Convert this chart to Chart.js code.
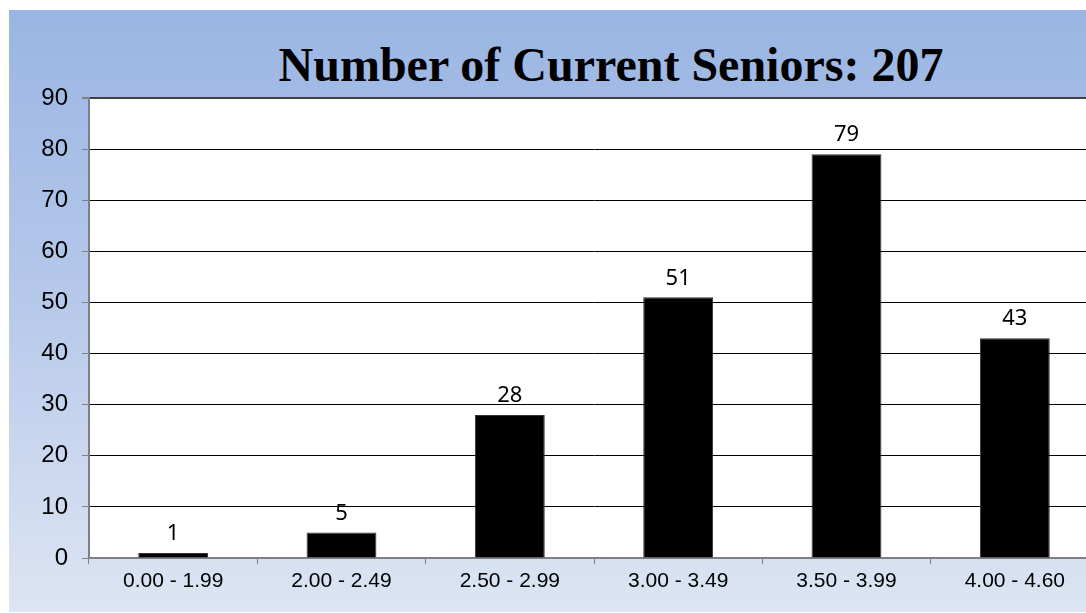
<!DOCTYPE html>
<html>
<head>
<meta charset="utf-8">
<script src="https://cdn.jsdelivr.net/npm/chart.js@4/dist/chart.umd.min.js"></script>
<style>
    html, body { margin: 0; padding: 0; background: #fff; overflow: hidden; width: 1086px; height: 613px; }
    #frame {
        position: absolute; left: 9px; top: 10px; width: 1090px; height: 602px;
        background: linear-gradient(to bottom, #9ab5e3 0%, #b4c7ea 45%, #dde5f3 100%);
    }
    #title {
        position: absolute; left: 0; top: 31px; width: 1204px; text-align: center;
        font: bold 48px "Liberation Serif", "Times New Roman", serif; color: #000;
        margin: 0; line-height: 1;
    }
    #wrap { position: absolute; left: 0; top: 0; width: 1090px; height: 602px; }
</style>
</head>
<body>
<div id="frame">
    <h1 id="title">Number of Current Seniors: 207</h1>
    <div id="wrap"><canvas id="chart"></canvas></div>
</div>
<script>
const categories = ["0.00 - 1.99", "2.00 - 2.49", "2.50 - 2.99", "3.00 - 3.49", "3.50 - 3.99", "4.00 - 4.60"];
const seniors = [1, 5, 28, 51, 79, 43];
const yTicks = [0, 10, 20, 30, 40, 50, 60, 70, 80, 90];

// white plot area
const plotBg = {
    id: "plotBg",
    beforeDraw(chart) {
        const a = chart.chartArea, ctx = chart.ctx;
        ctx.save();
        ctx.fillStyle = "#ffffff";
        ctx.fillRect(a.left, a.top, a.right - a.left, a.bottom - a.top);
        ctx.restore();
    }
};

// value labels above bars
const valueLabels = {
    id: "valueLabels",
    afterDatasetsDraw(chart) {
        const ctx = chart.ctx;
        const meta = chart.getDatasetMeta(0);
        ctx.save();
        ctx.font = '22px "Noto Sans", "Open Sans", sans-serif';
        ctx.fillStyle = "#000";
        ctx.textAlign = "center";
        ctx.textBaseline = "bottom";
        meta.data.forEach((bar, i) => {
            ctx.fillText(String(seniors[i]), bar.x, bar.y - 8);
        });
        ctx.restore();
    }
};

new Chart(document.getElementById("chart"), {
    type: "bar",
    data: {
        labels: categories,
        datasets: [{
            data: seniors,
            backgroundColor: "#000000",
            borderColor: "#333333",
            borderWidth: 1,
            barPercentage: 0.415,
            categoryPercentage: 1.0
        }]
    },
    options: {
        responsive: true,
        maintainAspectRatio: false,
        animation: false,
        layout: { padding: { top: 88, left: 0, right: 0, bottom: 0 } },
        plugins: { legend: { display: false }, tooltip: { enabled: false }, title: { display: false } },
        scales: {
            x: {
                grid: { drawOnChartArea: false, drawTicks: true, tickLength: 6, color: "#808080", offset: true },
                border: { color: "#808080", width: 2 },
                ticks: { color: "#000", font: { family: "'Liberation Sans', Arial, sans-serif", size: 21 }, padding: 5, maxRotation: 0 },
                afterFit(scale) { scale.height = 54; }
            },
            y: {
                min: 0,
                max: 90,
                afterBuildTicks(scale) { scale.ticks = yTicks.map(v => ({ value: v })); },
                grid: {
                    tickLength: 7,
                    tickColor: "#808080",
                    color: ctx => ctx.tick && ctx.tick.value === 90 ? "#404040" : (ctx.tick && ctx.tick.value === 0 ? "rgba(0,0,0,0)" : "#000000"),
                    lineWidth: ctx => ctx.tick && ctx.tick.value === 90 ? 2 : 1
                },
                border: { color: "#7f7f7f", width: 2 },
                ticks: { color: "#000", font: { family: "'Liberation Sans', Arial, sans-serif", size: 24 }, padding: 14 },
                afterFit(scale) { scale.width = 80; }
            }
        }
    },
    plugins: [plotBg, valueLabels]
});
</script>
</body>
</html>
